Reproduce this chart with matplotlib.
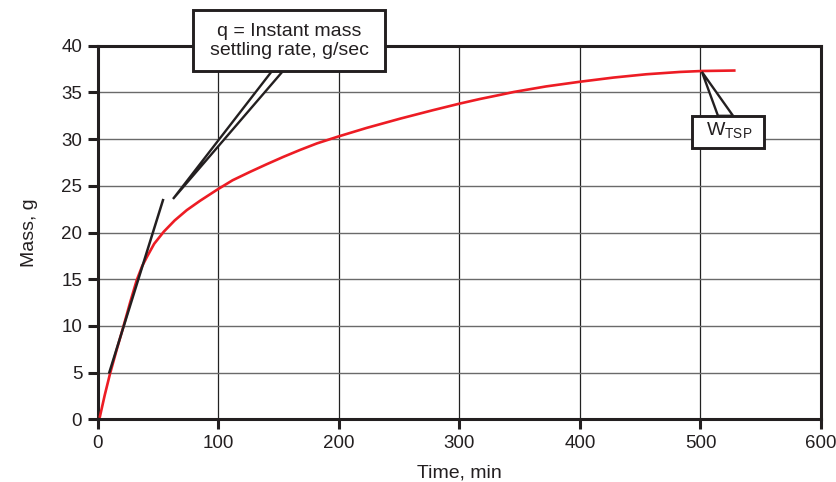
#!/usr/bin/env python3

# Mass settling curve with tangent (instant rate) and W_TSP annotations.

import matplotlib
matplotlib.use("Agg")
import matplotlib.pyplot as plt
from matplotlib.patches import Polygon, Rectangle

# curve
time_min = [2, 6, 10.4, 16, 21.4, 27, 32.5, 37, 41, 47, 55, 64, 74, 85, 99.3, 112,
            126.5, 140, 154, 168, 182, 200, 223, 251, 278, 300, 317, 334, 345, 372,
            400, 428, 455, 483, 501, 528]
mass_g = [0.3, 2.6, 4.9, 7.5, 9.9, 12.5, 14.9, 16.4, 17.4, 18.8, 20.1, 21.3, 22.4, 23.4,
          24.6, 25.6, 26.5, 27.3, 28.1, 28.85, 29.55, 30.3, 31.2, 32.2, 33.1, 33.8, 34.3,
          34.75, 35.05, 35.65, 36.15, 36.6, 36.95, 37.2, 37.3, 37.35]

# tangent line (q)
tangent_t = [9.5, 54.6]
tangent_m = [4.9, 23.6]

x_ticks = [0, 100, 200, 300, 400, 500, 600]
y_ticks = [0, 5, 10, 15, 20, 25, 30, 35, 40]

q_label = "q = Instant mass\nsettling rate, g/sec"
w_label = r"W$_{\mathregular{TSP}}$"

ink = "#231f20"
plt.rcParams["font.family"] = ["Liberation Sans", "DejaVu Sans"]

fig = plt.figure(figsize=(8.37, 4.82), dpi=100)
ax = fig.add_axes([0.1165, 0.130, 0.8645, 0.775])

ax.set_xlim(0, 600)
ax.set_ylim(0, 40)
ax.set_xticks(x_ticks)
ax.set_yticks(y_ticks)

for t in x_ticks[1:-1]:
    ax.axvline(t, color="#222222", lw=0.9, zorder=1)
for m in y_ticks[1:-1]:
    ax.axhline(m, color="#6a6a6a", lw=1.0, zorder=1)

for s in ax.spines.values():
    s.set_linewidth(2.2)
    s.set_color(ink)
ax.tick_params(direction="out", length=7, width=2.2, color=ink,
               labelcolor=ink, labelsize=13.5, pad=4)

ax.plot(time_min, mass_g, color="#ed1c24", lw=1.9, zorder=3)
ax.plot(tangent_t, tangent_m, color=ink, lw=1.8, zorder=4, solid_capstyle="butt")

ax.set_xlabel("Time, min", fontsize=14, labelpad=9, color=ink)
ax.set_ylabel("Mass, g", fontsize=14, labelpad=17, color=ink)

# q box and its leader
wedge = Polygon([(62.6, 23.6), (144.7, 37.3), (153.8, 37.3)], closed=True,
                facecolor="white", edgecolor=ink, lw=1.7, zorder=5, clip_on=False)
ax.add_patch(wedge)
ax.add_patch(Rectangle((79.2, 37.3), 159.4, 6.5, facecolor="white", edgecolor=ink,
                       lw=2.1, zorder=6, clip_on=False))
ax.text(159, 40.5, q_label, ha="center", va="center", fontsize=14, color=ink,
        linespacing=1.15, zorder=7, clip_on=False)

# W_TSP box and its leader
wedge2 = Polygon([(501.2, 37.2), (514.5, 32.5), (527.0, 32.5)], closed=True,
                 facecolor="white", edgecolor=ink, lw=1.7, zorder=5)
ax.add_patch(wedge2)
ax.add_patch(Rectangle((493, 29.1), 59.7, 3.4, facecolor="white", edgecolor=ink,
                       lw=2.1, zorder=6))
ax.text(523.6, 30.85, w_label, ha="center", va="center", fontsize=14, color=ink,
        zorder=7)

fig.savefig("out.png", dpi=100)
